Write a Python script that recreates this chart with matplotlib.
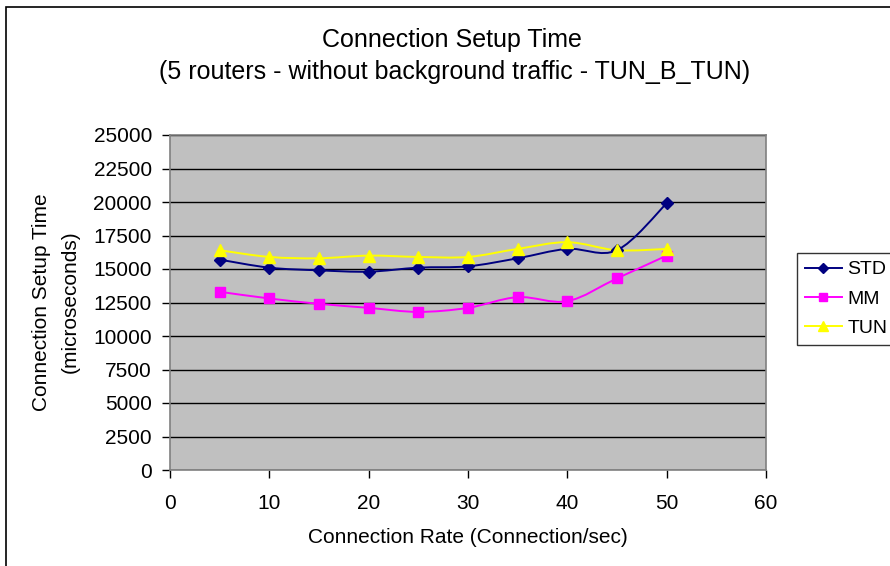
import numpy as np
import matplotlib
matplotlib.use("Agg")
import matplotlib.pyplot as plt
from matplotlib.path import Path
from matplotlib.patches import PathPatch, Rectangle
from matplotlib.lines import Line2D

plt.rcParams['font.family'] = ['Liberation Sans', 'DejaVu Sans']

rates = [5, 10, 15, 20, 25, 30, 35, 40, 45, 50]
std = [15700, 15100, 14900, 14800, 15100, 15200, 15800, 16500, 16400, 19900]
mm = [13300, 12800, 12400, 12100, 11800, 12100, 12900, 12600, 14300, 16000]
tun = [16400, 15900, 15800, 16000, 15900, 15900, 16500, 17000, 16400, 16500]

series = [
    ("STD", std, "#000080", "D", 6),
    ("MM", mm, "#FF00FF", "s", 6.5),
    ("TUN", tun, "#FFFF00", "^", 8),
]

FS = 15

fig = plt.figure(figsize=(8.9, 5.66), dpi=100)
ax = fig.add_axes([170/890, 1-470/566, (766-170)/890, (470-135)/566])
ax.set_facecolor("#C0C0C0")


def smooth_path(xd, yd):
    # Excel-style smoothed line: cubic Bezier segments with Catmull-Rom control points
    pts = np.column_stack([xd, yd]).astype(float)
    n = len(pts)
    verts = [pts[0]]
    codes = [Path.MOVETO]
    for i in range(n - 1):
        p0 = pts[i - 1] if i > 0 else pts[i]
        p1 = pts[i]
        p2 = pts[i + 1]
        p3 = pts[i + 2] if i + 2 < n else pts[i + 1]
        c1 = p1 + (p2 - p0) / 6.0
        c2 = p2 - (p3 - p1) / 6.0
        verts += [c1, c2, p2]
        codes += [Path.CURVE4] * 3
    return Path(verts, codes)


handles = []
for name, vals, col, mk, ms in series:
    ax.add_patch(PathPatch(smooth_path(rates, vals), facecolor="none",
                           edgecolor=col, lw=1.4, zorder=3))
    ax.plot(rates, vals, linestyle="none", marker=mk, color=col,
            markersize=ms, markeredgecolor=col, zorder=4)
    handles.append(Line2D([], [], color=col, lw=1.4, marker=mk,
                          markersize=ms - 1, label=name))

ax.set_xlim(0, 60)
ax.set_ylim(0, 25000)
ax.set_xticks(range(0, 61, 10))
ax.set_yticks(range(0, 25001, 2500))
ax.yaxis.grid(True, color="black", lw=1)
ax.set_axisbelow(True)
for s in ax.spines.values():
    s.set_color("#808080")
    s.set_linewidth(1.2)
ax.tick_params(axis="both", direction="out", length=6, width=1,
               color="black", labelsize=FS, pad=7)
ax.tick_params(axis="x", pad=11)

ax.set_xlabel("Connection Rate (Connection/sec)", fontsize=FS, labelpad=11)
fig.text(42/890, 1-302/566, "Connection Setup Time", rotation=90,
         fontsize=FS, ha="center", va="center")
fig.text(70/890, 1-302/566, "(microseconds)", rotation=90,
         fontsize=FS, ha="center", va="center")

fig.text(452/890, 1-40/566, "Connection Setup Time", fontsize=18,
         ha="center", va="center")
fig.text(455/890, 1-72/566,
         "(5 routers - without background traffic - TUN_B_TUN)",
         fontsize=18, ha="center", va="center")

leg = fig.legend(handles=handles, loc="upper left",
                 bbox_to_anchor=(797/890, 1-253/566), frameon=True,
                 fancybox=False, edgecolor="black", fontsize=14,
                 handlelength=1.9, handletextpad=0.3, borderpad=0.4,
                 borderaxespad=0, labelspacing=0.6)
leg.get_frame().set_linewidth(1)

fig.patches.append(Rectangle((6/890, -0.1), 1.2, 1 - 7/566 + 0.1,
                             transform=fig.transFigure, fill=False,
                             edgecolor="black", lw=1.2))

fig.savefig("out.png", dpi=100)
